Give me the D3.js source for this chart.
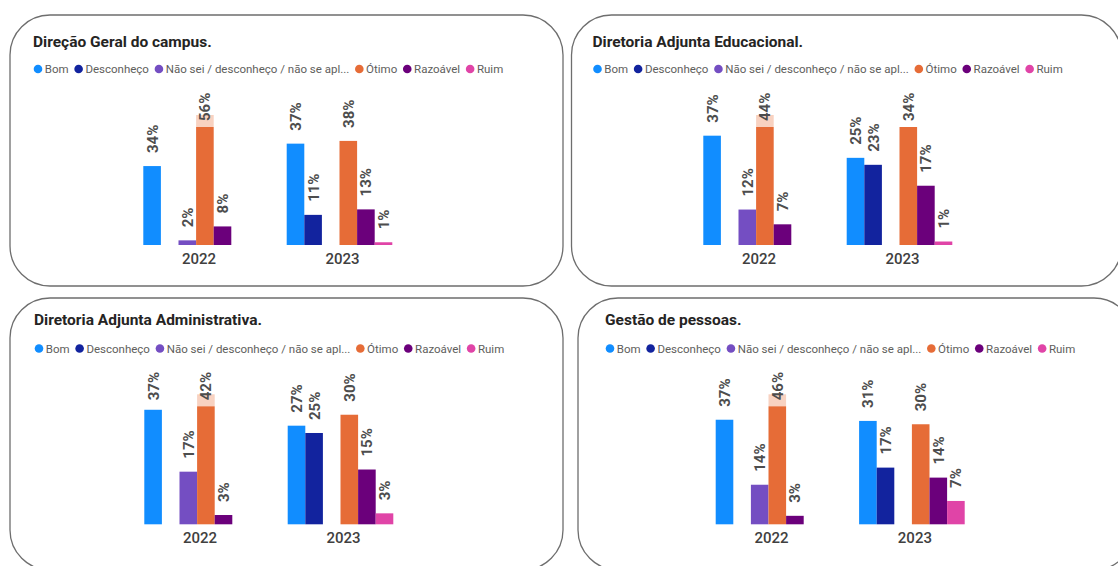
<!DOCTYPE html>
<html>
<head>
<meta charset="utf-8">
<script src="https://cdn.jsdelivr.net/npm/d3@7"></script>
<style>
  html, body { margin: 0; padding: 0; background: #fff; }
  svg { display: block; }
</style>
</head>
<body>
<svg id="chart" width="1118" height="566"></svg>
<script>
// ---------- DATA ----------
const years = ["2022", "2023"];
const seriesNames = ["Bom", "Desconheço", "Não sei / desconheço / não se apl...", "Ótimo", "Razoável", "Ruim"];
const panelTitles = [
  "Direção Geral do campus.",
  "Diretoria Adjunta Educacional.",
  "Diretoria Adjunta Administrativa.",
  "Gestão de pessoas."
];
// values per series, [2022, 2023] (null = no bar)
const direcaoGeral = [[34, 37], [null, 11], [2, null], [56, 38], [8, 13], [null, 1]];
const adjuntaEducacional = [[37, 25], [null, 23], [12, null], [44, 34], [7, 17], [null, 1]];
const adjuntaAdministrativa = [[37, 27], [null, 25], [17, null], [42, 30], [3, 15], [null, 3]];
const gestaoPessoas = [[37, 31], [null, 17], [14, null], [46, 30], [3, 14], [null, 7]];
const panelValues = [direcaoGeral, adjuntaEducacional, adjuntaAdministrativa, gestaoPessoas];

// ---------- STYLE / LAYOUT ----------
const colors = ["#118DFF", "#12239E", "#744EC2", "#E66C37", "#6B007B", "#E044A7"];
const overflowColor = "#F8D2C1";
const layout = [
  { box: [10, 15, 553, 271], title: [33, 46.5], legend: [38, 69], plotX: 143.3, base: 245 },
  { box: [571.5, 15, 550, 271], title: [592.5, 46.5], legend: [597.5, 69], plotX: 703.3, base: 245 },
  { box: [10, 298, 553, 272], title: [34, 325], legend: [39, 348.5], plotX: 144.3, base: 524.3 },
  { box: [578, 298, 556, 272], title: [605, 325], legend: [610, 348.5], plotX: 715.7, base: 524.3 }
];
const plotSpan = 249;       // from first bar of 2022 to last bar of 2023
const fullH = 130;          // height for the 2022 maximum
const clipH = 118;          // visible plot height
const yearScaleBoost = { "2022": 1, "2023": 1.18 };

const svg = d3.select("#chart");

panelValues.forEach((vals, pi) => {
  const L = layout[pi];
  const g = svg.append("g");

  g.append("rect")
    .attr("x", L.box[0]).attr("y", L.box[1])
    .attr("width", L.box[2]).attr("height", L.box[3])
    .attr("rx", 40).attr("ry", 40)
    .attr("fill", "none").attr("stroke", "#6e6e6e").attr("stroke-width", 1.3);

  g.append("text")
    .attr("x", L.title[0]).attr("y", L.title[1])
    .attr("font-family", "Roboto, 'DejaVu Sans', sans-serif")
    .attr("font-weight", 700).attr("font-size", 15.5)
    .attr("fill", "#252423")
    .text(panelTitles[pi]);

  // legend
  let lx = L.legend[0];
  seriesNames.forEach((s, si) => {
    g.append("circle").attr("cx", lx).attr("cy", L.legend[1]).attr("r", 4.3).attr("fill", colors[si]);
    const t = g.append("text")
      .attr("x", lx + 6.8).attr("y", L.legend[1]).attr("dy", "0.35em")
      .attr("font-family", "Roboto, sans-serif").attr("font-size", 11.5)
      .attr("fill", "#605E5C")
      .text(s);
    lx = lx + 6.8 + t.node().getComputedTextLength() + 10;
  });

  // scales
  const x0 = d3.scaleBand().domain(years)
    .range([L.plotX, L.plotX + plotSpan])
    .paddingInner(0.2636).paddingOuter(0);
  const x1 = d3.scaleBand().domain(d3.range(seriesNames.length))
    .range([0, x0.bandwidth()]).padding(0);
  const max22 = d3.max(vals, d => d[0]);
  const yScales = {};
  years.forEach(yr => {
    yScales[yr] = d3.scaleLinear()
      .domain([0, max22 / yearScaleBoost[yr]])
      .range([L.base, L.base - fullH]);
  });
  const clipTop = L.base - clipH;

  const items = [];
  vals.forEach((pair, si) => {
    pair.forEach((v, yi) => {
      if (v === null) return;
      items.push({ si, year: years[yi], v });
    });
  });

  items.forEach(d => {
    const y = yScales[d.year];
    const bx = x0(d.year) + x1(d.si);
    const bw = x1.bandwidth();
    const top = y(d.v);
    const visTop = Math.max(top, clipTop);
    if (top < clipTop - 1) {
      g.append("rect").attr("x", bx).attr("y", top)
        .attr("width", bw).attr("height", clipTop - top)
        .attr("fill", overflowColor);
    }
    g.append("rect").attr("x", bx).attr("y", visTop)
      .attr("width", bw).attr("height", L.base - visTop)
      .attr("fill", colors[d.si]);

    const labelBottom = Math.max(top - 13, clipTop - 6);
    g.append("text")
      .attr("transform", `translate(${bx + bw / 2},${labelBottom}) rotate(-90)`)
      .attr("dy", "0.36em")
      .attr("text-anchor", "start")
      .attr("font-family", "Roboto, sans-serif")
      .attr("font-weight", 700).attr("font-size", 15)
      .attr("fill", "#4d4d4d")
      .text(d.v + "%");
  });

  // year axis labels
  years.forEach(yr => {
    g.append("text")
      .attr("x", x0(yr) + x0.bandwidth() / 2 + 3)
      .attr("y", L.base + 19)
      .attr("text-anchor", "middle")
      .attr("font-family", "Roboto, sans-serif")
      .attr("font-weight", 500).attr("font-size", 15)
      .attr("fill", "#404040")
      .text(yr);
  });
});
</script>
</body>
</html>
